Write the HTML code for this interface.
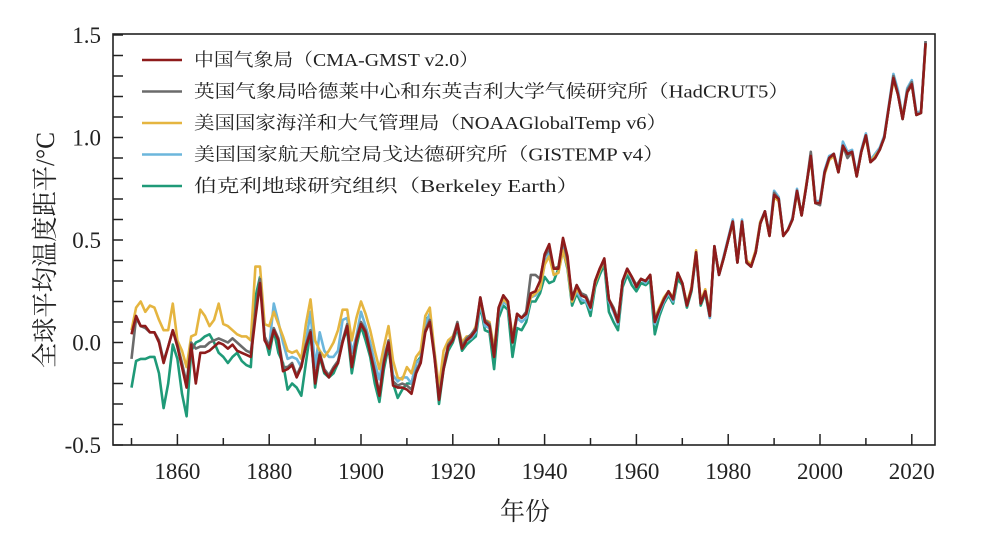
<!DOCTYPE html>
<html><head><meta charset="utf-8">
<style>
html,body{margin:0;padding:0;background:#fff;}
svg{display:block;}
</style></head>
<body>
<svg id="chart" width="987" height="544" viewBox="0 0 987 544" xmlns="http://www.w3.org/2000/svg">
<rect x="0" y="0" width="987" height="544" fill="#fff"/>
<g id="ticks"></g>
<g id="series"></g>
<rect x="113" y="34" width="822" height="411" fill="none" stroke="#222" stroke-width="1.6"/>
<g id="labels" font-family="'Liberation Serif', serif" font-size="23" fill="#222"></g>
<text transform="translate(54,250) rotate(-90)" text-anchor="middle" font-family="'Liberation Serif','Noto Serif CJK SC',serif" font-size="26" fill="#222" textLength="236" lengthAdjust="spacingAndGlyphs">全球平均温度距平/°C</text>
<text x="525" y="520" text-anchor="middle" font-family="'Liberation Serif','Noto Serif CJK SC',serif" font-size="25" fill="#222">年份</text>
<g id="legend" font-family="'Liberation Serif','Noto Serif CJK SC',serif" font-size="18" fill="#222"></g>
</svg>
<script>
const years = [];
for (let yr = 1850; yr <= 2023; yr++) years.push(yr);
const seriesNames = ["中国气象局（CMA-GMST v2.0）","英国气象局哈德莱中心和东英吉利大学气候研究所（HadCRUT5）","美国国家海洋和大气管理局（NOAAGlobalTemp v6）","美国国家航天航空局戈达德研究所（GISTEMP v4）","伯克利地球研究组织（Berkeley Earth）"];
const yTickValues = [-0.5,0.0,0.5,1.0,1.5];
const yTickLabels = ["-0.5","0.0","0.5","1.0","1.5"];
const xTickYears = [1860,1880,1900,1920,1940,1960,1980,2000,2020];
const cmaValues = [0.04,0.13,0.08,0.08,0.05,0.05,0.00,-0.10,-0.02,0.06,
-0.02,-0.12,-0.22,-0.01,-0.20,-0.05,-0.05,-0.04,-0.02,0.00,
-0.01,-0.03,-0.01,-0.04,-0.05,-0.06,-0.07,0.12,0.29,0.01,
-0.03,0.06,0.01,-0.14,-0.13,-0.11,-0.17,-0.12,-0.02,0.05,
-0.20,-0.06,-0.14,-0.17,-0.13,-0.10,0.00,0.08,-0.12,0.01,
0.09,0.05,-0.05,-0.15,-0.26,-0.10,0.00,-0.21,-0.22,-0.22,
-0.23,-0.25,-0.15,-0.10,0.05,0.10,-0.07,-0.28,-0.13,-0.02,
0.01,0.09,-0.03,0.01,0.03,0.06,0.22,0.10,0.08,-0.07,
0.17,0.23,0.20,0.00,0.14,0.12,0.14,0.24,0.25,0.30,
0.43,0.48,0.36,0.36,0.51,0.42,0.21,0.28,0.23,0.22,
0.17,0.30,0.36,0.41,0.21,0.16,0.10,0.30,0.36,0.32,
0.27,0.31,0.30,0.33,0.10,0.16,0.21,0.25,0.21,0.34,
0.29,0.18,0.26,0.44,0.19,0.25,0.13,0.47,0.33,0.41,
0.50,0.59,0.39,0.59,0.39,0.37,0.44,0.58,0.64,0.52,
0.72,0.70,0.52,0.55,0.60,0.74,0.62,0.76,0.91,0.68,
0.68,0.83,0.90,0.92,0.83,0.96,0.92,0.93,0.81,0.93,
1.01,0.88,0.90,0.94,1.00,1.15,1.29,1.21,1.09,1.22,
1.26,1.11,1.12,1.46];
const hadcrutValues = [-0.08,0.12,0.08,0.07,0.05,0.05,0.01,-0.09,-0.02,0.06,
-0.01,-0.10,-0.20,0.00,-0.03,-0.02,-0.02,0.00,0.01,0.02,
0.01,0.00,0.02,0.00,-0.02,-0.04,-0.05,0.15,0.31,0.03,
-0.02,0.07,0.02,-0.12,-0.12,-0.10,-0.16,-0.11,-0.01,0.06,
-0.18,-0.05,-0.13,-0.16,-0.12,-0.09,0.01,0.09,-0.11,0.02,
0.10,0.06,-0.04,-0.14,-0.25,-0.09,0.01,-0.19,-0.21,-0.20,
-0.21,-0.23,-0.14,-0.09,0.06,0.11,-0.06,-0.27,-0.12,-0.01,
0.02,0.10,-0.02,0.02,0.04,0.07,0.22,0.11,0.09,-0.06,
0.17,0.23,0.20,0.01,0.14,0.12,0.15,0.33,0.33,0.31,
0.42,0.46,0.36,0.37,0.50,0.40,0.22,0.28,0.24,0.23,
0.18,0.30,0.36,0.40,0.21,0.17,0.11,0.30,0.36,0.32,
0.28,0.31,0.30,0.33,0.11,0.16,0.21,0.25,0.21,0.34,
0.29,0.18,0.26,0.44,0.19,0.25,0.13,0.47,0.33,0.41,
0.50,0.59,0.39,0.59,0.39,0.37,0.44,0.58,0.64,0.52,
0.73,0.70,0.52,0.55,0.60,0.74,0.62,0.76,0.93,0.68,
0.67,0.83,0.90,0.92,0.83,0.96,0.90,0.93,0.81,0.93,
1.01,0.88,0.90,0.94,1.00,1.15,1.30,1.21,1.09,1.23,
1.27,1.11,1.12,1.47];
const noaaValues = [0.06,0.17,0.20,0.15,0.18,0.17,0.11,0.06,0.06,0.19,
0.01,-0.04,-0.12,0.03,0.04,0.16,0.13,0.08,0.11,0.19,
0.09,0.08,0.06,0.04,0.03,0.03,0.01,0.37,0.37,0.09,
0.08,0.15,0.09,0.03,-0.04,-0.05,-0.04,-0.08,0.09,0.21,
0.01,-0.04,-0.07,-0.04,0.00,0.06,0.16,0.16,0.01,0.12,
0.20,0.14,0.06,-0.04,-0.13,-0.02,0.08,-0.09,-0.17,-0.18,
-0.12,-0.15,-0.07,-0.04,0.13,0.17,-0.04,-0.22,-0.04,0.01,
0.03,0.09,0.00,0.03,0.03,0.08,0.20,0.11,0.10,-0.03,
0.17,0.21,0.19,0.03,0.14,0.12,0.14,0.22,0.24,0.26,
0.38,0.42,0.33,0.34,0.45,0.37,0.20,0.26,0.23,0.22,
0.17,0.29,0.35,0.40,0.21,0.17,0.11,0.30,0.35,0.32,
0.28,0.31,0.30,0.33,0.12,0.17,0.22,0.25,0.22,0.34,
0.29,0.19,0.27,0.45,0.20,0.26,0.14,0.46,0.34,0.41,
0.50,0.58,0.40,0.58,0.40,0.38,0.45,0.59,0.63,0.52,
0.71,0.69,0.52,0.55,0.60,0.73,0.62,0.77,0.90,0.68,
0.68,0.82,0.89,0.91,0.83,0.95,0.92,0.92,0.81,0.93,
1.00,0.88,0.91,0.94,1.00,1.15,1.28,1.21,1.10,1.22,
1.26,1.11,1.12,1.45];
const gistempValues = [null,null,null,null,null,null,null,null,null,null,
null,null,null,null,null,null,null,null,null,null,
null,null,null,null,null,null,null,null,null,null,
-0.02,0.19,0.10,0.00,-0.08,-0.07,-0.08,-0.12,0.00,0.15,
-0.12,0.05,-0.04,-0.07,-0.07,-0.04,0.11,0.12,-0.05,0.03,
0.15,0.08,0.00,-0.10,-0.18,-0.06,0.00,-0.16,-0.19,-0.17,
-0.17,-0.20,-0.10,-0.08,0.09,0.14,-0.05,-0.24,-0.10,-0.02,
0.01,0.08,-0.02,0.01,0.02,0.05,0.19,0.08,0.07,-0.06,
0.15,0.20,0.18,0.01,0.12,0.10,0.12,0.22,0.23,0.26,
0.38,0.44,0.33,0.34,0.46,0.38,0.20,0.25,0.21,0.20,
0.16,0.29,0.35,0.40,0.20,0.15,0.09,0.29,0.35,0.31,
0.27,0.31,0.29,0.33,0.09,0.15,0.20,0.24,0.20,0.34,
0.29,0.18,0.26,0.44,0.19,0.25,0.12,0.47,0.33,0.42,
0.51,0.60,0.40,0.60,0.39,0.37,0.45,0.59,0.64,0.53,
0.74,0.71,0.52,0.55,0.61,0.75,0.62,0.76,0.92,0.69,
0.69,0.84,0.91,0.92,0.84,0.98,0.93,0.94,0.82,0.94,
1.02,0.89,0.92,0.95,1.01,1.16,1.31,1.23,1.10,1.24,
1.28,1.12,1.13,1.47];
const berkeleyValues = [-0.22,-0.09,-0.08,-0.08,-0.07,-0.07,-0.15,-0.32,-0.20,-0.01,
-0.08,-0.25,-0.36,-0.04,0.00,0.01,0.03,0.04,0.00,-0.05,
-0.07,-0.10,-0.07,-0.05,-0.09,-0.11,-0.12,0.22,0.32,0.03,
-0.06,0.06,-0.05,-0.10,-0.23,-0.20,-0.22,-0.26,-0.10,0.06,
-0.22,-0.07,-0.15,-0.17,-0.15,-0.10,0.01,0.06,-0.15,-0.02,
0.08,0.01,-0.07,-0.20,-0.29,-0.13,-0.02,-0.20,-0.27,-0.23,
-0.20,-0.20,-0.10,-0.07,0.11,0.13,-0.05,-0.30,-0.13,-0.04,
0.00,0.07,-0.04,-0.01,0.01,0.03,0.18,0.06,0.05,-0.13,
0.12,0.18,0.16,-0.07,0.07,0.06,0.10,0.20,0.20,0.24,
0.32,0.29,0.30,0.36,0.45,0.36,0.18,0.24,0.19,0.20,
0.13,0.27,0.33,0.38,0.15,0.10,0.06,0.27,0.33,0.28,
0.25,0.29,0.28,0.30,0.04,0.13,0.19,0.23,0.19,0.31,
0.28,0.17,0.25,0.43,0.18,0.24,0.12,0.46,0.33,0.41,
0.50,0.59,0.39,0.59,0.39,0.37,0.44,0.58,0.64,0.52,
0.72,0.70,0.52,0.55,0.60,0.74,0.62,0.76,0.91,0.68,
0.68,0.83,0.90,0.92,0.83,0.96,0.92,0.93,0.81,0.93,
1.01,0.88,0.90,0.94,1.00,1.15,1.29,1.21,1.09,1.22,
1.26,1.11,1.12,1.46];

const NS = "http://www.w3.org/2000/svg";
function xScale(yr){ return 131.5 + (yr - 1850) * 4.59; }
function yScale(v){ return 342.5 - v * 205; }
function mk(tag, attrs, parent){
  const e = document.createElementNS(NS, tag);
  for (const k in attrs) e.setAttribute(k, attrs[k]);
  parent.appendChild(e);
  return e;
}
const ticksG = document.getElementById('ticks');
const labelsG = document.getElementById('labels');
for (let i = -5; i <= 15; i++) {
  const yy = yScale(i / 10);
  const t = mk('line', {x1:113, x2:123, y1:yy, y2:yy, stroke:'#222', 'stroke-width':1.5}, ticksG);
  
  
}
yTickValues.forEach((v, i) => {
  const t = mk('text', {x:101, y:yScale(v) + 8, 'text-anchor':'end'}, labelsG);
  t.textContent = yTickLabels[i];
  
  
});
for (let yr = 1850; yr <= 2020; yr += 10) {
  const xx = xScale(yr);
  const len = (yr % 20 === 0) ? 11 : 7;
  const t = mk('line', {x1:xx, x2:xx, y1:445, y2:445 - len, stroke:'#222', 'stroke-width':1.5}, ticksG);
  
  
}
xTickYears.forEach(yr => {
  const t = mk('text', {x:xScale(yr), y:479, 'text-anchor':'middle'}, labelsG);
  t.textContent = String(yr);
  
  
});
const seriesG = document.getElementById('series');
const colors = ["#8e1b1b","#6b6b6b","#e5b540","#6cb6dc","#1f9a78"];
const allSeries = [cmaValues, hadcrutValues, noaaValues, gistempValues, berkeleyValues];
const seriesKeys = ["cma","hadcrut5","noaa","gistemp","berkeley"];
function pathFor(vals){
  let d = "", started = false;
  vals.forEach((v, i) => {
    if (v === null || v === undefined) { started = false; return; }
    d += (started ? "L" : "M") + xScale(years[i]).toFixed(1) + "," + yScale(v).toFixed(1);
    started = true;
  });
  return d;
}
[4,3,2,1,0].forEach(k => {
  const p = mk('path', {d:pathFor(allSeries[k]), fill:'none', stroke:colors[k], 'stroke-width':2.6, 'stroke-linejoin':'round'}, seriesG);
  
  
});
const legendG = document.getElementById('legend');
const legendWidths = [285, 595, 473, 470, 385];
seriesNames.forEach((name, i) => {
  const yy = 60 + i * 31.5;
  const l = mk('line', {x1:142, x2:182, y1:yy, y2:yy, stroke:colors[i], 'stroke-width':2.6}, legendG);
  
  
  const t = mk('text', {x:194, y:yy + 6, textLength:legendWidths[i], lengthAdjust:'spacingAndGlyphs'}, legendG);
  t.textContent = name;
  
  
});
</script>
</body></html>
